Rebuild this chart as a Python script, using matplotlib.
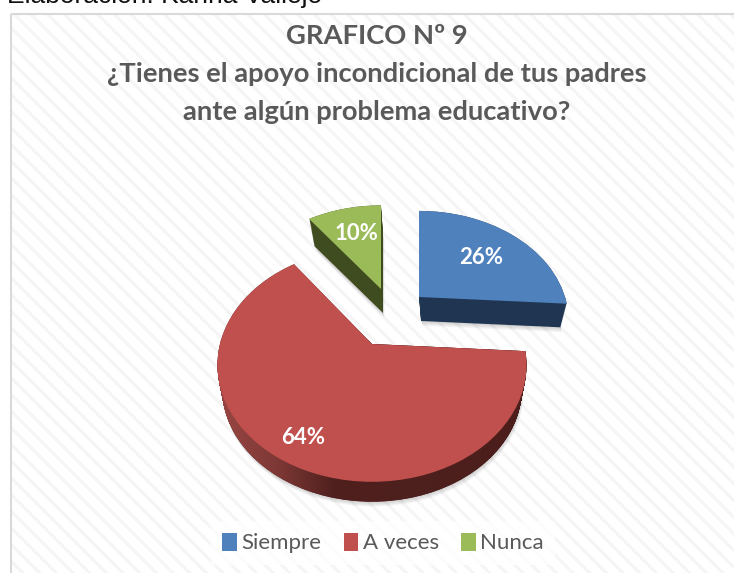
import numpy as np
import matplotlib
matplotlib.use("Agg")
import matplotlib.pyplot as plt
from matplotlib.transforms import Transform, Affine2D, IdentityTransform
from matplotlib.patches import Rectangle
from matplotlib.path import Path
from matplotlib.colors import LinearSegmentedColormap

# ---- data ----
categories = ["Siempre", "A veces", "Nunca"]
values = [26, 64, 10]
source_text = "Elaboración: Karina Vallejo"
title_lines = ["GRAFICO Nº 9",
               "¿Tienes el apoyo incondicional de tus padres",
               "ante algún problema educativo?"]

# ---- style ----
top_colors = ["#4f81bd", "#c0504d", "#9bbb59"]
rim_colors = ["#1f3552", "#4b1e1c", "#3f4c20"]
W, H = 734, 573
offsets = [(419, 297), (372, 344), (381, 289)]   # exploded slice apexes
proj_A = [146.0, 152.0, 144.0]
proj_B = [105.0, 113.0, 102.0]
proj_K = [0.22, 0.18, 0.22]
shrink = [0.945, 0.97, 0.96]
drift = [2, 0, 2]
DEPTH = 24
label_pos = [(481, 258), (303, 437), (356, 233)]


class Tilt(Transform):
    """Perspective projection of the unit pie disc."""
    input_dims = 2
    output_dims = 2
    is_separable = False
    has_inverse = False

    def __init__(self, a, b, k):
        super().__init__()
        self.a, self.b, self.k = a, b, k

    def transform_non_affine(self, xy):
        xy = np.asarray(xy, float)
        w = 1 + self.k * xy[:, 1]
        return np.column_stack([self.a * xy[:, 0] / w, -self.b * xy[:, 1] / w])


fig = plt.figure(figsize=(W / 100, H / 100), dpi=100, facecolor="white")
ax = fig.add_axes([0, 0, 1, 1])
plt.rcParams["hatch.linewidth"] = 2.2


def layer(frac, colors, zorder, alpha=None, extra=(0, 0)):
    wedges, _ = ax.pie(values, colors=colors, startangle=90, counterclock=False,
                       wedgeprops=dict(linewidth=0, alpha=alpha))
    for i, w in enumerate(wedges):
        ox, oy = offsets[i]
        s = 1 - (1 - shrink[i]) * frac
        tr = Tilt(proj_A[i], proj_B[i], proj_K[i]) + Affine2D().scale(s).translate(
            ox + drift[i] * frac + extra[0], oy + DEPTH * frac + extra[1]) + ax.transData
        w.set_transform(tr)
        w.set_zorder(zorder)
    return wedges


# soft shadow
for step in range(1, 6):
    layer(1, ["#000000"] * 3, 2, alpha=0.035, extra=(step * 0.3, step))

# sides of the slices
red_copies = []
for d in range(DEPTH + 1):
    ws = layer(d / DEPTH, rim_colors, 3.5 - d / 100)
    red_copies.append(ws[1])

tops = layer(0, top_colors, 5)

ax.set_aspect("auto")
ax.set_xlim(0, W)
ax.set_ylim(H, 0)
ax.set_frame_on(False)
ax.set_xticks([])
ax.set_yticks([])

# gradient on the red side
clip = Path.make_compound_path(*[w.get_transform().transform_path(w.get_path()) for w in red_copies])
cmap = LinearSegmentedColormap.from_list(
    "rim", [(0, "#9a4744"), (0.2, "#7d3835"), (0.38, "#4f201e"), (1, "#4b1e1c")])
im = ax.imshow(np.linspace(0, 1, 256)[None, :], cmap=cmap, extent=(215, 530, 515, 340),
               aspect="auto", zorder=4)
im.set_clip_path(clip, IdentityTransform())
ax.set_xlim(0, W)
ax.set_ylim(H, 0)

# chart area background
bg = Rectangle((11, 14), W, H, facecolor="white", edgecolor="#f5f5f5",
               linewidth=0, hatch="\\\\", zorder=0)
ax.add_patch(bg)
bg2 = Rectangle((11, 14), W, H, facecolor="none", edgecolor="#d9d9d9", linewidth=1.5, zorder=1)
ax.add_patch(bg2)

# texts
ax.text(7, 3.5, source_text, fontsize=19, family="Liberation Sans", color="#111111",
        va="baseline", ha="left")
for txt, y in zip(title_lines, [36, 74, 112]):
    ax.text(377, y, txt, fontsize=19.7, family="Lato", weight="bold", color="#595959",
            ha="center", va="center")
for v, (x, y) in zip(values, label_pos):
    ax.text(x, y, f"{v}%", fontsize=16, family="Lato", weight="bold", color="white",
            ha="center", va="center", zorder=8)

leg = ax.legend(tops, categories, ncol=3, loc="center", bbox_to_anchor=(383, 543),
                bbox_transform=ax.transData, frameon=True, framealpha=0.75,
                edgecolor="none", facecolor="white", fancybox=False,
                handlelength=0.66, handleheight=0.9, handletextpad=0.2, columnspacing=1.0,
                borderpad=0.5, prop=dict(family="Lato", size=16), labelcolor="#595959")

fig.savefig("out.png", dpi=100)
